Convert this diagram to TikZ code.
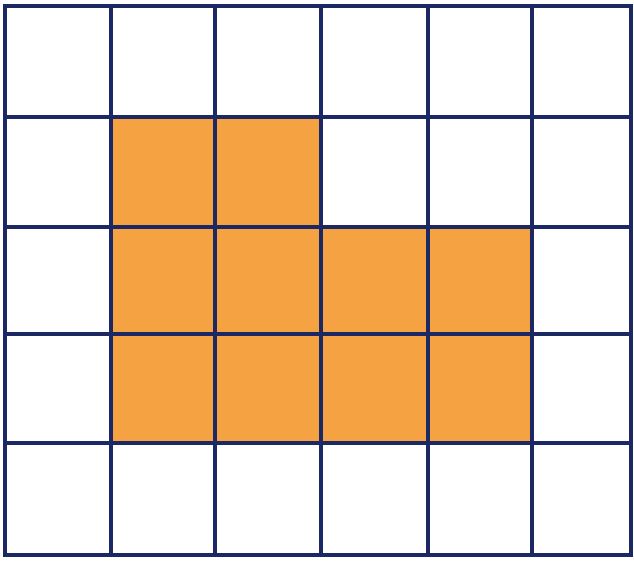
\documentclass[tikz,border=0pt]{standalone}
\definecolor{gridnavy}{HTML}{1C2863}
\definecolor{cellorange}{HTML}{F5A243}
\tikzset{
  gridline/.style={draw=gridnavy, line width=3.8pt},
  shaded/.style={fill=cellorange, draw=none}
}
\begin{document}
\begin{tikzpicture}[x=1pt,y=-1pt]
\useasboundingbox (0,0) rectangle (634,560);
\fill[white] (0,0) rectangle (634,560);
% orange region
\fill[shaded] (111,117) -- (321,117) -- (321,227) -- (532,227) -- (532,443) -- (111,443) -- cycle;
% vertical lines
\foreach \x in {5,111,215,321,428,532,631}
  \draw[gridline] (\x,4) -- (\x,557);
% horizontal lines
\foreach \y in {6,117,227,334,443,555}
  \draw[gridline] (3,\y) -- (633,\y);
\end{tikzpicture}
\end{document}
